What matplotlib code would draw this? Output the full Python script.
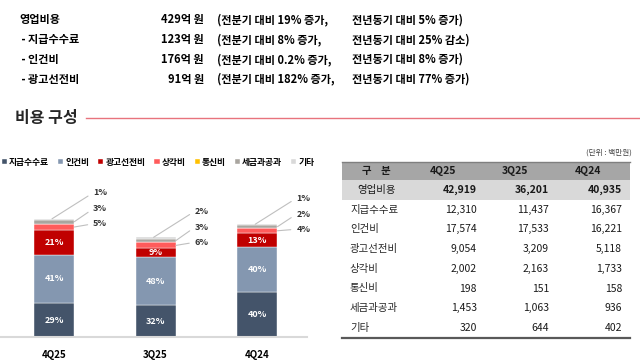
import matplotlib
matplotlib.use('Agg')
import matplotlib.pyplot as plt
from matplotlib.patches import Rectangle

plt.rcParams['font.family'] = ['Noto Sans CJK KR', 'DejaVu Sans']

# 분기 / 비용 항목 (단위: 백만원)
quarters = ['4Q25', '3Q25', '4Q24']
items = ['지급수수료', '인건비', '광고선전비', '상각비', '통신비', '세금과공과', '기타']
colors = ['#44546a', '#8497b0', '#c00000', '#ff5b5b', '#ffc000', '#a9a59f', '#d9d9d9']

total = [42919, 36201, 40935]
fee = [12310, 11437, 16367]
labor = [17574, 17533, 16221]
ad = [9054, 3209, 5118]
depr = [2002, 2163, 1733]
comm = [198, 151, 158]
tax = [1453, 1063, 936]
etc = [320, 644, 402]
values = [fee, labor, ad, depr, comm, tax, etc]

# 상단 요약 문구
sum_names = ['영업비용', ' - 지급수수료', ' - 인건비', ' - 광고선전비']
sum_amount = ['429억 원', '123억 원', '176억 원', '91억 원']
sum_qoq = ['(전분기 대비 19% 증가,', '(전분기 대비 8% 증가,', '(전분기 대비 0.2% 증가,', '(전분기 대비 182% 증가,']
sum_yoy = ['전년동기 대비 5% 증가)', '전년동기 대비 25% 감소)', '전년동기 대비 8% 증가)', '전년동기 대비 77% 증가)']

fig = plt.figure(figsize=(6.4, 3.63), dpi=100)
W, H = 640, 363

# 배경 레이어 (픽셀 좌표)
lay = fig.add_axes([0, 0, 1, 1])
lay.set_xlim(0, W)
lay.set_ylim(H, 0)
lay.axis('off')

for i in range(len(sum_names)):
    y = 20 + 19.7 * i
    lay.text(19, y, sum_names[i], fontsize=8, fontweight='bold', va='center', ha='left')
    lay.text(204, y, sum_amount[i], fontsize=8, fontweight='bold', va='center', ha='right')
    lay.text(217, y, sum_qoq[i], fontsize=8, fontweight='bold', va='center', ha='left')
    lay.text(352, y, sum_yoy[i], fontsize=8, fontweight='bold', va='center', ha='left')

lay.text(15, 118, '비용 구성', fontsize=11.5, fontweight='bold', va='center', ha='left', color='#262626')
lay.plot([86, 640], [118, 118], color='#e8737d', lw=1)

# 표
lay.text(632, 153, '(단위 : 백만원)', fontsize=5.5, ha='right', va='center', color='#404040')
lay.add_patch(Rectangle((342, 162), 288, 18, facecolor='#a6a6a6', edgecolor='none'))
lay.plot([342, 630], [162, 162], color='#7f7f7f', lw=1)
lay.add_patch(Rectangle((342, 180), 288, 20, facecolor='#d9d9d9', edgecolor='none'))
col_x = [477, 549, 622]
lay.text(376, 171, '구    분', fontsize=7.5, fontweight='bold', ha='center', va='center', color='#1a1a1a')
for q, cx in zip(quarters, col_x):
    lay.text(cx - 34, 171, q, fontsize=7.5, fontweight='bold', ha='center', va='center', color='#1a1a1a')

rows = ['영업비용'] + items
row_vals = [total] + values
for r, (name, vals) in enumerate(zip(rows, row_vals)):
    y = 190 + 19.7 * r
    if r == 0:
        lay.text(377, y, name, fontsize=7.5, ha='center', va='center', color='#1a1a1a')
    else:
        lay.text(350, y, name, fontsize=7.5, ha='left', va='center', color='#262626')
    for v, cx in zip(vals, col_x):
        lay.text(cx, y, f'{v:,}', fontsize=7.5, ha='right', va='center', color='#1a1a1a',
                 fontweight='bold' if r == 0 else 'normal')
lay.plot([342, 630], [338, 338], color='#595959', lw=1.6)

# 누적 막대
ymax = 57000
ax = fig.add_axes([0, (H - 337) / H, 307 / W, 157 / H])
ax.set_xlim(-0.532, 2.49)
ax.set_ylim(0, ymax)
px = ymax / 157.0

x = list(range(len(quarters)))
bottom = [0, 0, 0]
segs = []
for name, vals, c in zip(items, values, colors):
    ax.bar(x, vals, width=0.395, bottom=bottom, color=c, edgecolor='white', linewidth=0.3, label=name)
    segs.append(list(bottom))
    bottom = [bb + v for bb, v in zip(bottom, vals)]

for i in x:
    # 막대 안쪽 라벨
    for k in range(3):
        pct = values[k][i] / total[i] * 100
        ax.text(i, segs[k][i] + values[k][i] / 2, f'{pct:.0f}%', color='white', fontsize=6.5,
                fontweight='bold', ha='center', va='center')
    # 바깥 라벨 (기타, 세금과공과, 상각비)
    top = bottom[i]
    for k, dy, x_from in [(6, 26, i - 0.02), (5, 10, i + 0.2), (3, -5, i + 0.2)]:
        pct = values[k][i] / total[i] * 100
        y_from = top if k == 6 else segs[k][i] + values[k][i] / 2
        ax.annotate(f'{pct:.0f}%', xy=(x_from, y_from), xytext=(i + 0.385, top + dy * px),
                    fontsize=6.5, fontweight='bold', color='#333333', va='center', ha='left',
                    arrowprops=dict(arrowstyle='-', color='#bfbfbf', lw=0.8, relpos=(0, 0.5),
                                    shrinkA=2, shrinkB=0))

ax.set_xticks(x)
ax.set_xticklabels(quarters, fontsize=7, fontweight='bold')
ax.tick_params(length=0, pad=9)
for s in ['top', 'right', 'left']:
    ax.spines[s].set_visible(False)
ax.spines['bottom'].set_color('#d9d9d9')
ax.spines['bottom'].set_linewidth(1.5)
ax.set_yticks([])
ax.patch.set_alpha(0)

fig.legend(loc='center left', bbox_to_anchor=(0.0, 1 - 162 / H), ncol=7, frameon=False,
           prop={'size': 6.3, 'weight': 'bold'}, handlelength=0.6, handleheight=0.6,
           handletextpad=0.25, columnspacing=1.0, borderpad=0, borderaxespad=0.2)

fig.savefig('out.png', dpi=100)
